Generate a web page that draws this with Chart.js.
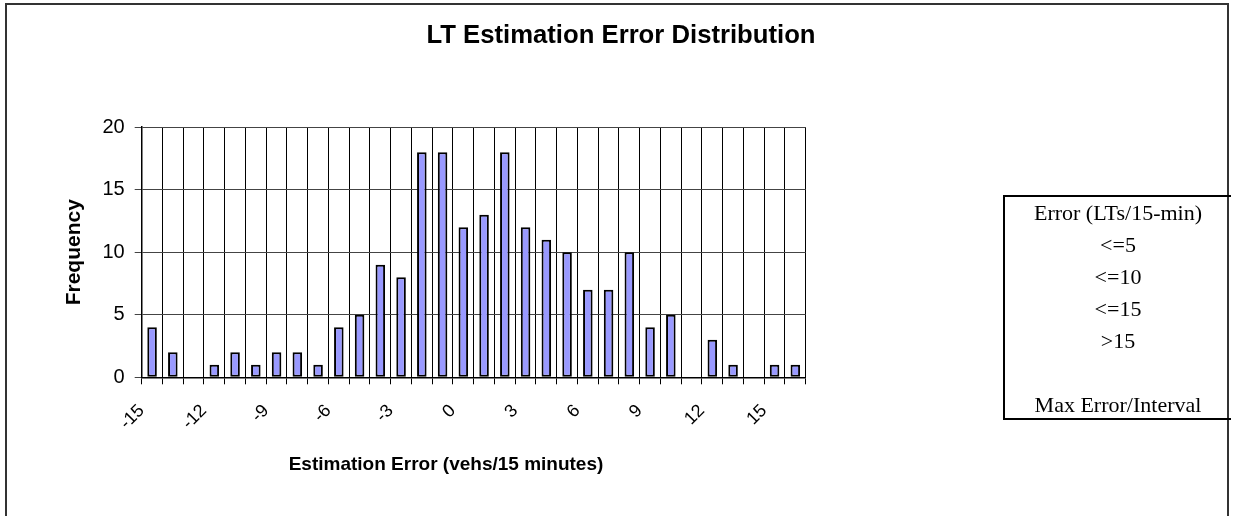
<!DOCTYPE html>
<html>
<head>
<meta charset="utf-8">
<script src="https://cdn.jsdelivr.net/npm/chart.js@4/dist/chart.umd.min.js"></script>
<style>
  html, body { margin: 0; padding: 0; background: #fff; }
  #wrap { position: relative; width: 1233px; height: 516px; overflow: hidden; }
  #frame { position: absolute; left: 5px; top: 3px; width: 1224px; height: 600px; border: 2px solid #333; box-sizing: border-box; pointer-events: none; }
  #cv { position: absolute; left: 0; top: 0; }
  #legendBox { position: absolute; left: 1003px; top: 195px; width: 228px; height: 225px; box-sizing: border-box;
    border-top: 2px solid #000; border-bottom: 2px solid #000; border-left: 2px solid #000;
    font-family: "Liberation Serif", "Times New Roman", serif; font-size: 22px; color: #000; text-align: center; line-height: 32px; }
</style>
</head>
<body>
<div id="wrap">
  <canvas id="cv" width="1233" height="516"></canvas>
  <div id="frame"></div>
  <div id="legendBox"></div>
</div>
<script>
// ---- data ----
const categories = [-15,-14,-13,-12,-11,-10,-9,-8,-7,-6,-5,-4,-3,-2,-1,0,1,2,3,4,5,6,7,8,9,10,11,12,13,14,15,16];
const frequencies = [4,2,0,1,2,1,2,2,1,4,5,9,8,18,18,12,13,18,12,11,10,7,7,10,4,5,0,3,1,0,1,1];
const tickLabels = ['-15','-12','-9','-6','-3','0','3','6','9','12','15'];
const yTicks = [0,5,10,15,20];
const legendLines = ['Error (LTs/15-min)', '<=5', '<=10', '<=15', '>15', '\u00a0', 'Max Error/Interval'];

const chartTitle = 'LT Estimation Error Distribution';
const xTitle = 'Estimation Error (vehs/15 minutes)';
const yTitle = 'Frequency';

// legend box text
const lb = document.getElementById('legendBox');
legendLines.forEach(t => { const d = document.createElement('div'); d.textContent = t; lb.appendChild(d); });

Chart.defaults.font.family = '"Liberation Sans", Arial, sans-serif';
Chart.defaults.color = '#000';

const textPlugin = {
  id: 'textPlugin',
  afterDraw(chart) {
    const ctx = chart.ctx;
    ctx.save();
    ctx.fillStyle = '#000';
    ctx.textAlign = 'center';
    ctx.textBaseline = 'alphabetic';
    ctx.font = 'bold 25.7px "Liberation Sans", Arial, sans-serif';
    ctx.fillText(chartTitle, 621, 42.7);
    ctx.font = 'bold 19px "Liberation Sans", Arial, sans-serif';
    ctx.fillText(xTitle, 446, 470);
    ctx.restore();
  }
};

const bgPlugin = {
  id: 'bg',
  beforeDraw(chart) {
    const ctx = chart.ctx;
    ctx.save(); ctx.fillStyle = '#fff'; ctx.fillRect(0, 0, chart.width, chart.height); ctx.restore();
  }
};

new Chart(document.getElementById('cv'), {
  type: 'bar',
  data: {
    labels: categories.map(String),
    datasets: [{
      data: frequencies,
      backgroundColor: '#9999FF',
      borderColor: '#000',
      borderWidth: 2,
      borderSkipped: false,
      categoryPercentage: 1,
      barPercentage: 0.46
    }]
  },
  options: {
    responsive: false,
    animation: false,
    events: [],
    layout: { padding: { left: 55, right: 427.3, top: 127.2, bottom: 78.7 } },
    plugins: {
      legend: { display: false },
      tooltip: { enabled: false },
      title: { display: false }
    },
    scales: {
      x: {
        type: 'category',
        offset: true,
        afterFit: s => { s.height = 60; },
        grid: {
          offset: true,
          color: ctx => (ctx.index === categories.length ? '#888' : '#000'),
          lineWidth: 1,
          tickLength: 7
        },
        border: { color: '#000', width: 1.5 },
        ticks: {
          autoSkip: false,
          minRotation: 45,
          maxRotation: 45,
          labelOffset: -10.4,
          padding: 16,
          font: { size: 18 },
          color: '#000',
          callback: function(v, i) {
            const s = String(categories[i]);
            return tickLabels.includes(s) ? s : '';
          }
        }
      },
      y: {
        min: 0,
        max: 20,
        afterFit: s => { s.width = 86.7; },
        afterBuildTicks: s => { s.ticks = yTicks.map(v => ({ value: v })); },
        grid: { color: '#444', lineWidth: 1, tickLength: 7 },
        border: { color: '#000', width: 1.5 },
        ticks: { font: { size: 20 }, color: '#000', padding: 10 },
        title: {
          display: true,
          text: yTitle,
          font: { size: 21, weight: 'bold' },
          color: '#000',
          padding: { top: 6.4, bottom: 16 }
        }
      }
    }
  },
  plugins: [bgPlugin, textPlugin]
});
</script>
</body>
</html>
